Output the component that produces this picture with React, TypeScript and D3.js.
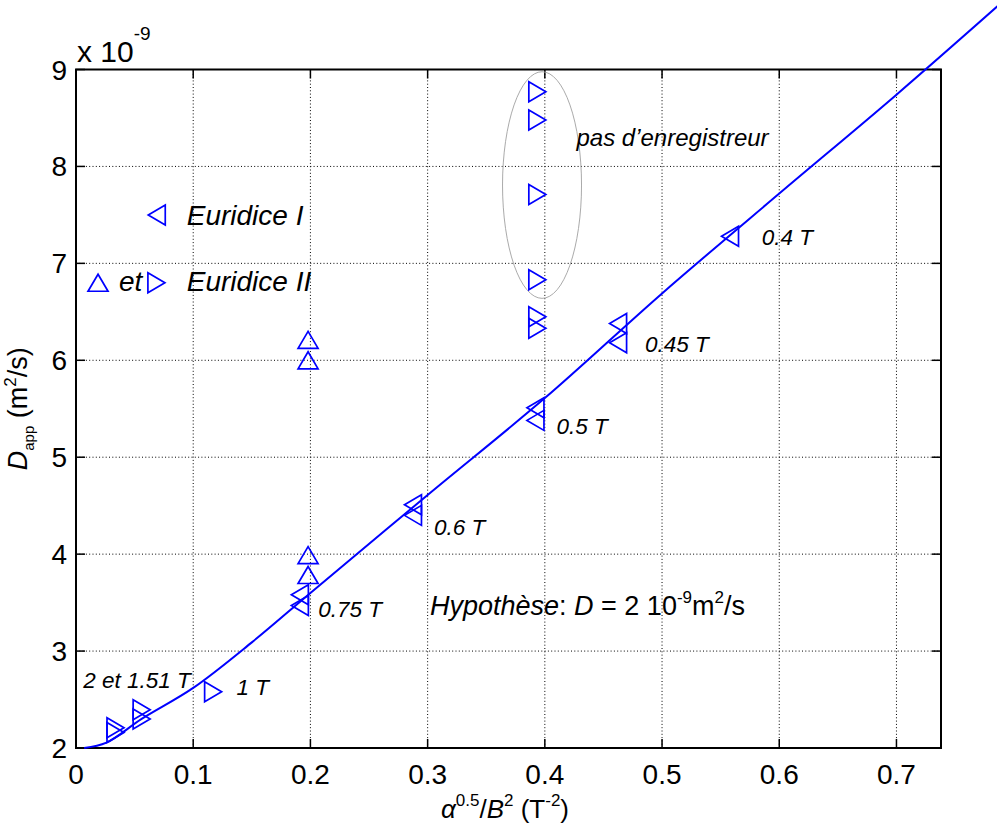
import React from "react";
import * as d3 from "d3";

const xTicks = [0, 0.1, 0.2, 0.3, 0.4, 0.5, 0.6, 0.7];
const yTicks = [2, 3, 4, 5, 6, 7, 8, 9];

// Euridice I (left-pointing triangles)
const euridice1: [number, number][] = [
  [0.191, 3.58], [0.191, 3.47], [0.2875, 4.51], [0.2875, 4.40],
  [0.392, 5.51], [0.392, 5.38], [0.4625, 6.38], [0.4625, 6.18], [0.558, 7.28],
];
// Euridice II (up triangles)
const euridice2Up: [number, number][] = [
  [0.198, 3.99], [0.198, 3.785], [0.198, 6.21], [0.198, 6.0],
];
// Euridice II (right triangles)
const euridice2Right: [number, number][] = [
  [0.0337, 2.21], [0.0337, 2.16], [0.056, 2.395], [0.056, 2.30], [0.117, 2.58],
  [0.3936, 8.77], [0.3936, 8.48], [0.3936, 7.71], [0.3936, 6.83], [0.3936, 6.45], [0.3936, 6.33],
];
// model curve
const curveX = [0.007, 0.026, 0.056, 0.1, 0.15, 0.2, 0.3, 0.4, 0.5, 0.6, 0.7, 0.8];
const curveY = [2.0, 2.055, 2.3, 2.62, 3.09, 3.6, 4.61, 5.61, 6.69, 7.72, 8.74, 9.8];

// legend markers
const legendMarkers: { dir: string; x: number; y: number }[] = [
  { dir: "left", x: 0.0689, y: 7.5 },
  { dir: "up", x: 0.0188, y: 6.8 },
  { dir: "right", x: 0.0686, y: 6.8 },
];

const annotations: { text: string; x: number; y: number; size: number }[] = [
  { text: "0.4 T", x: 0.585, y: 7.19, size: 22.5 },
  { text: "0.45 T", x: 0.4855, y: 6.09, size: 22.5 },
  { text: "0.5 T", x: 0.41, y: 5.24, size: 22.5 },
  { text: "0.6 T", x: 0.3055, y: 4.2, size: 22.5 },
  { text: "0.75 T", x: 0.2067, y: 3.35, size: 22.5 },
  { text: "1 T", x: 0.137, y: 2.547, size: 22.5 },
  { text: "2 et 1.51 T", x: 0.0062, y: 2.62, size: 22.5 },
  { text: "pas d\u2019enregistreur", x: 0.427, y: 8.21, size: 24 },
];

const FONT = "'Liberation Sans', Arial, Helvetica, sans-serif";
const BLUE = "#0000ff";

function tri(dir: string, cx: number, cy: number): string {
  if (dir === "up") {
    return `M${cx},${cy - 8.5}L${cx - 10},${cy + 8.5}L${cx + 10},${cy + 8.5}Z`;
  }
  if (dir === "right") {
    return `M${cx + 8.5},${cy}L${cx - 8.5},${cy - 10}L${cx - 8.5},${cy + 10}Z`;
  }
  return `M${cx - 8.5},${cy}L${cx + 8.5},${cy - 10}L${cx + 8.5},${cy + 10}Z`;
}

export default function App() {
  const W = 997, H = 830;
  const x = d3.scaleLinear().domain([0, 0.738]).range([76, 941]);
  const y = d3.scaleLinear().domain([2, 9]).range([748, 69.5]);
  const [x0, x1] = x.range();
  const [y0, y1] = y.range();
  const tick = 9;

  const line = d3
    .line<number>()
    .x((_, i) => x(curveX[i]))
    .y((d) => y(d))
    .curve(d3.curveCatmullRom.alpha(0.5));

  return (
    <svg
      width={W}
      height={H}
      style={{ position: "absolute", left: 0, top: 0, background: "#fff" }}
      fontFamily={FONT}
    >
      <rect x={0} y={0} width={W} height={H} fill="#fff" />
      {/* grid */}
      <g stroke="#000" strokeWidth={1} strokeDasharray="1,2.3">
        {xTicks.map((t) => (
          <line key={"gx" + t} x1={x(t)} x2={x(t)} y1={y0} y2={y1} />
        ))}
        {yTicks.map((t) => (
          <line key={"gy" + t} x1={x0} x2={x1} y1={y(t)} y2={y(t)} />
        ))}
      </g>
      {/* ticks */}
      <g stroke="#000" strokeWidth={1.5}>
        {xTicks.map((t) => (
          <g key={"tx" + t}>
            <line x1={x(t)} x2={x(t)} y1={y0} y2={y0 - tick} />
            <line x1={x(t)} x2={x(t)} y1={y1} y2={y1 + tick} />
          </g>
        ))}
        {yTicks.map((t) => (
          <g key={"ty" + t}>
            <line x1={x0} x2={x0 + tick} y1={y(t)} y2={y(t)} />
            <line x1={x1} x2={x1 - tick} y1={y(t)} y2={y(t)} />
          </g>
        ))}
      </g>
      {/* box */}
      <rect x={x0} y={y1} width={x1 - x0} height={y0 - y1} fill="none" stroke="#000" strokeWidth={2} />
      {/* tick labels */}
      <g fontSize={28} fill="#000">
        {xTicks.map((t) => (
          <text key={"lx" + t} x={x(t)} y={y0 + 36} textAnchor="middle">
            {String(t)}
          </text>
        ))}
        {yTicks.map((t) => (
          <text key={"ly" + t} x={x0 - 9} y={y(t) + 10} textAnchor="end">
            {String(t)}
          </text>
        ))}
      </g>
      {/* exponent */}
      <text x={77} y={62} fontSize={30} fill="#000">
        x 10
        <tspan fontSize={19} dx={0} dy={-22}>-9</tspan>
      </text>
      {/* x label */}
      <text x={505} y={818} textAnchor="middle" fontSize={26} fill="#000">
        <tspan fontStyle="italic">α</tspan>
        <tspan fontSize={17} dy={-12}>0.5</tspan>
        <tspan dy={12}>/</tspan>
        <tspan fontStyle="italic">B</tspan>
        <tspan fontSize={17} dy={-12}>2</tspan>
        <tspan dy={12}> (T</tspan>
        <tspan fontSize={17} dy={-12}>-2</tspan>
        <tspan dy={12}>)</tspan>
      </text>
      {/* y label */}
      <text
        transform={`translate(27,${(y0 + y1) / 2}) rotate(-90)`}
        textAnchor="middle"
        fontSize={27}
        fill="#000"
      >
        <tspan fontStyle="italic">D</tspan>
        <tspan fontSize={15} dy={7}>app</tspan>
        <tspan dy={-7}> (m</tspan>
        <tspan fontSize={17} dy={-11}>2</tspan>
        <tspan dy={11}>/s)</tspan>
      </text>
      {/* ellipse */}
      <ellipse
        cx={x(0.3976)}
        cy={y(7.808)}
        rx={x(0.3976 + 0.0337) - x(0.3976)}
        ry={y(7.808) - y(7.808 + 1.169)}
        fill="none"
        stroke="#a0a0a0"
        strokeWidth={0.9}
      />
      {/* curve */}
      <path d={line(curveY) || ""} fill="none" stroke={BLUE} strokeWidth={2} />
      {/* markers */}
      <g fill="none" stroke={BLUE} strokeWidth={1.7} strokeLinejoin="miter">
        {euridice1.map((d, i) => (
          <path key={"e1" + i} d={tri("left", x(d[0]), y(d[1]))} />
        ))}
        {euridice2Up.map((d, i) => (
          <path key={"e2u" + i} d={tri("up", x(d[0]), y(d[1]))} />
        ))}
        {euridice2Right.map((d, i) => (
          <path key={"e2r" + i} d={tri("right", x(d[0]), y(d[1]))} />
        ))}
        {legendMarkers.map((m, i) => (
          <path key={"lm" + i} d={tri(m.dir, x(m.x), y(m.y))} />
        ))}
      </g>
      {/* legend texts */}
      <g fontSize={28} fontStyle="italic" fill="#000">
        <text x={x(0.0945)} y={y(7.4)}>Euridice I</text>
        <text x={x(0.0945)} y={y(6.71)}>Euridice II</text>
        <text x={x(0.0367)} y={y(6.71)}>et</text>
      </g>
      {/* annotations */}
      <g fontStyle="italic" fill="#000">
        {annotations.map((a, i) => (
          <text key={"an" + i} x={x(a.x)} y={y(a.y)} fontSize={a.size}>
            {a.text}
          </text>
        ))}
      </g>
      {/* hypothesis */}
      <text x={x(0.302)} y={y(3.37)} fontSize={27} fill="#000">
        <tspan fontStyle="italic">Hypothèse</tspan>
        <tspan>: </tspan>
        <tspan fontStyle="italic">D</tspan>
        <tspan> = 2 10</tspan>
        <tspan fontSize={17} dy={-12}>-9</tspan>
        <tspan dy={12}>m</tspan>
        <tspan fontSize={17} dy={-12}>2</tspan>
        <tspan dy={12}>/s</tspan>
      </text>
    </svg>
  );
}
